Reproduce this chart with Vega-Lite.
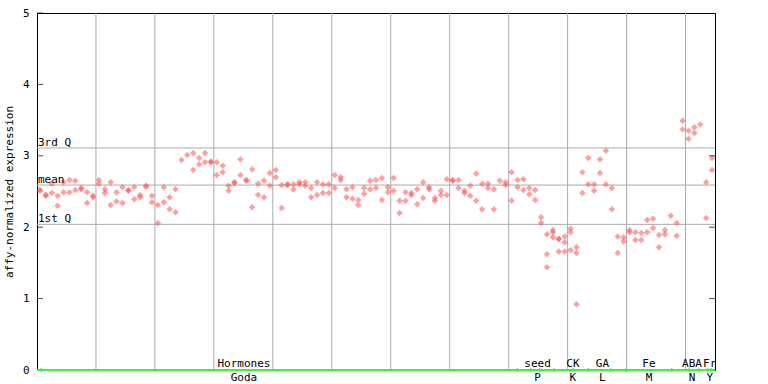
{
  "$schema": "https://vega.github.io/schema/vega-lite/v6.json",
  "width": 678,
  "height": 357,
  "autosize": {"type": "none"},
  "padding": {"left": 37, "top": 13, "right": 53, "bottom": 14},
  "background": "white",
  "config": {
    "view": {"stroke": "black", "strokeWidth": 1},
    "font": "DejaVu Sans Mono",
    "axis": {"labelFont": "DejaVu Sans Mono", "titleFont": "DejaVu Sans Mono"}
  },
  "resolve": {"axis": {"x": "independent", "y": "independent"}},
  "datasets": {
    "pts": [
      {"k":1,"v":2.52},{"k":1,"v":2.51},{"k":2,"v":2.45},{"k":2,"v":2.44},{"k":3,"v":2.61},{"k":3,"v":2.48},
      {"k":4,"v":2.44},{"k":4,"v":2.30},{"k":5,"v":2.63},{"k":5,"v":2.49},{"k":6,"v":2.66},{"k":6,"v":2.49},
      {"k":7,"v":2.65},{"k":7,"v":2.52},{"k":8,"v":2.55},{"k":8,"v":2.53},{"k":9,"v":2.49},{"k":9,"v":2.34},
      {"k":10,"v":2.44},{"k":10,"v":2.42},{"k":11,"v":2.66},{"k":11,"v":2.61},{"k":12,"v":2.53},{"k":12,"v":2.48},
      {"k":13,"v":2.63},{"k":13,"v":2.31},{"k":14,"v":2.49},{"k":14,"v":2.36},{"k":15,"v":2.56},{"k":15,"v":2.34},
      {"k":16,"v":2.52},{"k":16,"v":2.51},{"k":17,"v":2.56},{"k":17,"v":2.39},{"k":18,"v":2.45},{"k":18,"v":2.42},
      {"k":19,"v":2.58},{"k":19,"v":2.57},{"k":20,"v":2.44},{"k":20,"v":2.35},{"k":21,"v":2.31},{"k":21,"v":2.06},
      {"k":22,"v":2.56},{"k":22,"v":2.35},{"k":23,"v":2.42},{"k":23,"v":2.25},{"k":24,"v":2.53},{"k":24,"v":2.21},
      {"k":25,"v":2.94},{"k":26,"v":3.01},{"k":27,"v":3.04},{"k":27,"v":2.80},{"k":28,"v":2.97},{"k":28,"v":2.88},
      {"k":29,"v":3.04},{"k":29,"v":2.91},{"k":30,"v":2.92},{"k":30,"v":2.91},{"k":31,"v":2.91},{"k":31,"v":2.73},
      {"k":32,"v":2.86},{"k":32,"v":2.77},{"k":33,"v":2.58},{"k":33,"v":2.51},{"k":34,"v":2.63},{"k":34,"v":2.62},
      {"k":35,"v":2.95},{"k":35,"v":2.73},{"k":36,"v":2.66},{"k":36,"v":2.65},{"k":37,"v":2.81},{"k":37,"v":2.28},
      {"k":38,"v":2.61},{"k":38,"v":2.45},{"k":39,"v":2.65},{"k":39,"v":2.42},{"k":40,"v":2.76},{"k":40,"v":2.58},
      {"k":41,"v":2.80},{"k":41,"v":2.70},{"k":42,"v":2.59},{"k":42,"v":2.27},{"k":43,"v":2.60},{"k":43,"v":2.59},
      {"k":44,"v":2.60},{"k":44,"v":2.53},{"k":45,"v":2.63},{"k":45,"v":2.60},{"k":46,"v":2.63},{"k":46,"v":2.58},
      {"k":47,"v":2.55},{"k":47,"v":2.42},{"k":48,"v":2.63},{"k":48,"v":2.45},{"k":49,"v":2.60},{"k":49,"v":2.48},
      {"k":50,"v":2.60},{"k":50,"v":2.48},{"k":51,"v":2.73},{"k":51,"v":2.55},{"k":52,"v":2.70},{"k":52,"v":2.66},
      {"k":53,"v":2.53},{"k":53,"v":2.42},{"k":54,"v":2.56},{"k":54,"v":2.40},{"k":55,"v":2.38},{"k":55,"v":2.31},
      {"k":56,"v":2.55},{"k":56,"v":2.47},{"k":57,"v":2.65},{"k":57,"v":2.53},{"k":58,"v":2.66},{"k":58,"v":2.55},
      {"k":59,"v":2.69},{"k":59,"v":2.38},{"k":60,"v":2.56},{"k":60,"v":2.49},{"k":61,"v":2.69},{"k":61,"v":2.51},
      {"k":62,"v":2.37},{"k":62,"v":2.20},{"k":63,"v":2.49},{"k":63,"v":2.37},{"k":64,"v":2.48},{"k":64,"v":2.45},
      {"k":65,"v":2.53},{"k":65,"v":2.32},{"k":66,"v":2.63},{"k":66,"v":2.41},{"k":67,"v":2.56},{"k":67,"v":2.53},
      {"k":68,"v":2.41},{"k":68,"v":2.37},{"k":69,"v":2.51},{"k":69,"v":2.45},{"k":70,"v":2.67},{"k":70,"v":2.45},
      {"k":71,"v":2.66},{"k":71,"v":2.65},{"k":72,"v":2.66},{"k":72,"v":2.55},{"k":73,"v":2.51},{"k":73,"v":2.48},
      {"k":74,"v":2.58},{"k":74,"v":2.44},{"k":75,"v":2.75},{"k":75,"v":2.37},{"k":76,"v":2.61},{"k":76,"v":2.25},
      {"k":77,"v":2.61},{"k":77,"v":2.55},{"k":78,"v":2.53},{"k":78,"v":2.25},{"k":79,"v":2.65},
      {"k":80,"v":2.63},{"k":80,"v":2.59},{"k":81,"v":2.77},{"k":81,"v":2.37},{"k":82,"v":2.66},{"k":82,"v":2.56},
      {"k":83,"v":2.67},{"k":83,"v":2.52},{"k":84,"v":2.55},{"k":84,"v":2.46},{"k":85,"v":2.52},{"k":85,"v":2.38},
      {"k":86,"v":2.14},{"k":86,"v":2.06},{"k":87,"v":1.90},{"k":87,"v":1.62},{"k":87,"v":1.44},
      {"k":88,"v":1.96},{"k":88,"v":1.93},{"k":88,"v":1.86},{"k":89,"v":1.84},{"k":89,"v":1.83},{"k":89,"v":1.66},
      {"k":90,"v":1.87},{"k":90,"v":1.79},{"k":90,"v":1.66},{"k":91,"v":1.98},{"k":91,"v":1.93},{"k":91,"v":1.68},
      {"k":92,"v":1.72},{"k":92,"v":1.64},{"k":92,"v":0.92},{"k":93,"v":2.77},{"k":93,"v":2.48},
      {"k":94,"v":2.97},{"k":94,"v":2.60},{"k":95,"v":2.60},{"k":95,"v":2.51},{"k":96,"v":2.95},{"k":96,"v":2.76},
      {"k":97,"v":3.07},{"k":97,"v":2.60},{"k":98,"v":2.55},{"k":98,"v":2.25},{"k":99,"v":1.87},{"k":99,"v":1.64},
      {"k":100,"v":1.86},{"k":100,"v":1.80},{"k":101,"v":1.96},{"k":101,"v":1.93},{"k":102,"v":1.93},{"k":102,"v":1.82},
      {"k":103,"v":1.92},{"k":103,"v":1.82},{"k":104,"v":2.10},{"k":104,"v":1.93},{"k":105,"v":2.12},{"k":105,"v":1.99},
      {"k":106,"v":1.89},{"k":106,"v":1.72},{"k":107,"v":1.96},{"k":107,"v":1.90},{"k":108,"v":2.16},
      {"k":109,"v":2.06},{"k":109,"v":1.88},{"k":110,"v":3.49},{"k":110,"v":3.37},{"k":111,"v":3.35},{"k":111,"v":3.24},
      {"k":112,"v":3.40},{"k":112,"v":3.32},{"k":113,"v":3.44},{"k":114,"v":2.63},{"k":114,"v":2.13},
      {"k":115,"v":2.97},{"k":115,"v":2.80}
    ],
    "stats": [
      {"label": "3rd Q", "v": 3.11},
      {"label": "mean", "v": 2.59},
      {"label": "1st Q", "v": 2.04}
    ],
    "vgrid": [
      {"g": 10.5}, {"g": 20.5}, {"g": 30.5}, {"g": 40.5}, {"g": 50.5}, {"g": 60.5},
      {"g": 70.5}, {"g": 80.5}, {"g": 90.5}, {"g": 100.5}, {"g": 110.5}
    ],
    "lticks": [{"t": 0}, {"t": 1}, {"t": 2}, {"t": 3}, {"t": 4}, {"t": 5}],
    "rticks": [{"t": 1}, {"t": 2}, {"t": 3}],
    "groups": [
      {"top": "Hormones", "bot": "Goda", "pos": 35.6},
      {"top": "seed", "bot": "P", "pos": 85.4},
      {"top": "CK", "bot": "K", "pos": 91.4},
      {"top": "GA", "bot": "L", "pos": 96.4},
      {"top": "Fe", "bot": "M", "pos": 104.3},
      {"top": "ABA", "bot": "N", "pos": 111.6},
      {"top": "Fr", "bot": "Y", "pos": 114.6}
    ],
    "arrows": [
      {"pos": 1.0, "dir": "L"}, {"pos": 82.2, "dir": "R"},
      {"pos": 84.0, "dir": "L"}, {"pos": 86.0, "dir": "R"},
      {"pos": 88.0, "dir": "L"}, {"pos": 91.7, "dir": "R"},
      {"pos": 93.8, "dir": "L"}, {"pos": 98.0, "dir": "R"},
      {"pos": 100.2, "dir": "L"}, {"pos": 108.4, "dir": "R"},
      {"pos": 110.9, "dir": "L"}, {"pos": 113.0, "dir": "R"},
      {"pos": 114.0, "dir": "L"}, {"pos": 115.0, "dir": "R"}
    ]
  },
  "layer": [
    {
      "data": {"name": "vgrid"},
      "mark": {"type": "rule", "color": "#aaaaaa", "strokeWidth": 1},
      "encoding": {
        "x": {"field": "g", "type": "quantitative", "scale": {"domain": [0.5, 115.5], "nice": false, "zero": false}, "axis": null}
      }
    },
    {
      "data": {"name": "stats"},
      "mark": {"type": "rule", "color": "#aaaaaa", "strokeWidth": 1},
      "encoding": {
        "y": {
          "field": "v", "type": "quantitative",
          "scale": {"domain": [0, 5], "nice": false, "zero": true},
          "axis": {
            "orient": "left",
            "values": [0, 1, 2, 3, 4, 5],
            "format": "d",
            "grid": false, "ticks": false,
            "domainColor": "black",
            "labelColor": "black", "labelFontSize": 11, "labelPadding": 8,
            "title": "affy-normalized expression", "titleFontSize": 11, "titleFontWeight": "normal",
            "titleColor": "black", "titlePadding": 8
          }
        }
      }
    },
    {
      "data": {"name": "pts"},
      "mark": {"type": "point", "shape": "diamond", "filled": true, "color": "#ff5050", "opacity": 0.55, "size": 42, "strokeWidth": 0},
      "encoding": {
        "x": {"field": "k", "type": "quantitative", "axis": null},
        "y": {"field": "v", "type": "quantitative", "axis": null}
      }
    },
    {
      "data": {"name": "stats"},
      "mark": {"type": "text", "align": "left", "baseline": "alphabetic", "dx": 1, "dy": -2, "fontSize": 11, "color": "black", "font": "DejaVu Sans Mono"},
      "encoding": {
        "x": {"datum": 0.5, "type": "quantitative", "axis": null},
        "y": {"field": "v", "type": "quantitative", "axis": null},
        "text": {"field": "label"}
      }
    },
    {
      "data": {"name": "lticks"},
      "mark": {"type": "tick", "orient": "horizontal", "color": "black", "size": 6, "thickness": 1, "xOffset": 3},
      "encoding": {
        "x": {"datum": 0.5, "type": "quantitative", "axis": null},
        "y": {"field": "t", "type": "quantitative", "axis": null}
      }
    },
    {
      "data": {"name": "rticks"},
      "mark": {"type": "tick", "orient": "horizontal", "color": "black", "size": 6, "thickness": 1, "xOffset": -3},
      "encoding": {
        "x": {"datum": 115.5, "type": "quantitative", "axis": null},
        "y": {"field": "t", "type": "quantitative", "axis": null}
      }
    },
    {
      "data": {"values": [{"z": 0}]},
      "mark": {"type": "rule", "color": "#40f040", "strokeWidth": 2},
      "encoding": {
        "y": {"field": "z", "type": "quantitative", "axis": null}
      }
    },
    {
      "data": {"name": "arrows"},
      "mark": {"type": "point", "filled": true, "color": "#40f040", "size": 22, "opacity": 1},
      "encoding": {
        "x": {"field": "pos", "type": "quantitative", "axis": null},
        "y": {"datum": 0, "type": "quantitative", "axis": null},
        "shape": {"field": "dir", "type": "nominal", "scale": {"domain": ["L", "R"], "range": ["triangle-left", "triangle-right"]}, "legend": null}
      }
    },
    {
      "data": {"name": "groups"},
      "mark": {"type": "text", "align": "center", "baseline": "alphabetic", "dy": -3, "fontSize": 11, "color": "black", "font": "DejaVu Sans Mono"},
      "encoding": {
        "x": {"field": "pos", "type": "quantitative", "axis": null},
        "y": {"datum": 0, "type": "quantitative", "axis": null},
        "text": {"field": "top"}
      }
    },
    {
      "data": {"name": "groups"},
      "mark": {"type": "text", "align": "center", "baseline": "alphabetic", "dy": 11, "fontSize": 11, "color": "black", "font": "DejaVu Sans Mono"},
      "encoding": {
        "x": {"field": "pos", "type": "quantitative", "axis": null},
        "y": {"datum": 0, "type": "quantitative", "axis": null},
        "text": {"field": "bot"}
      }
    }
  ]
}
